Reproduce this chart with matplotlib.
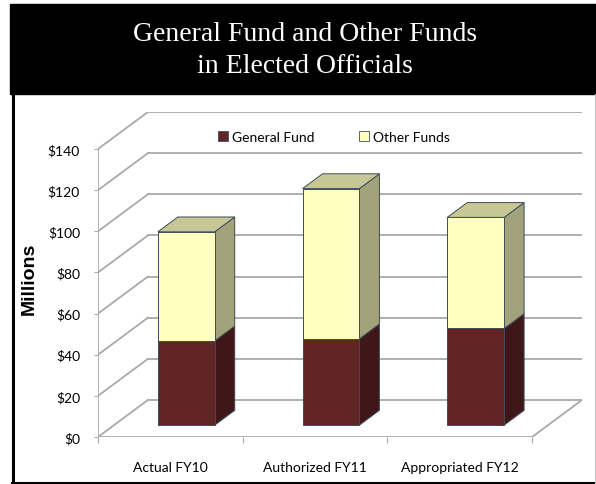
import matplotlib.pyplot as plt
from matplotlib.patches import Polygon, Rectangle, Patch

categories = ['Actual FY10', 'Authorized FY11', 'Appropriated FY12']
general_fund = [41, 42, 47]
other_funds = [53, 73, 54]
yticks = [0, 20, 40, 60, 80, 100, 120, 140]

# oblique 3d look: depth offset of the back wall in data units
DX, DY = 0.345, 18
d_front, d_back = 0.32, 0.72
bar_w = 0.393

W, H = 596, 485
fig = plt.figure(figsize=(W / 100, H / 100), dpi=100)

# frame + black title box (pixel coords)
bg = fig.add_axes([0, 0, 1, 1])
bg.set_xlim(0, W); bg.set_ylim(H, 0); bg.axis('off')
bg.add_patch(Rectangle((10, 5), W - 10, 90, color='black'))
bg.plot([12.5, 12.5], [95, H], color='black', lw=2.2)
bg.plot([12, W], [483.5, 483.5], color='black', lw=2.2)
bg.plot([595, 595], [95, 484], color='#c8c8c8', lw=0.8)
bg.text(305, 41, 'General Fund and Other Funds', color='white', ha='center', va='baseline',
        family='Liberation Serif', fontsize=20)
bg.text(305, 73, 'in Elected Officials', color='white', ha='center', va='baseline',
        family='Liberation Serif', fontsize=20)

ax = fig.add_axes([98 / W, 1 - 438 / H, 484 / W, 325 / H])
ax.set_xlim(0, 3 + DX)
ax.set_ylim(0, 140 + DY)
for s in ax.spines.values():
    s.set_visible(False)
ax.patch.set_alpha(0)

gc = '#a9a9a9'
# back wall gridlines and left wall diagonals
for v in yticks:
    ax.plot([DX, 3 + DX], [v + DY, v + DY], color=gc, lw=1.3, zorder=1)
    ax.plot([0, DX], [v, v + DY], color=gc, lw=1.3, zorder=1)
# floor front edge, right diagonal, and value axis
ax.plot([0, 3], [0, 0], color=gc, lw=1.3, zorder=1)
ax.plot([3, 3 + DX], [0, DY], color=gc, lw=1.3, zorder=1)
ax.plot([0, 0], [0, 140], color=gc, lw=1.3, zorder=1)

ec = '#3f4b5c'
def box(x0, a, b, front, side, top=None):
    fx, fy = DX * d_front, DY * d_front
    bx, by = DX * d_back, DY * d_back
    x1 = x0 + bar_w
    ax.add_patch(Polygon([(x1 + fx, a + fy), (x1 + bx, a + by), (x1 + bx, b + by), (x1 + fx, b + fy)],
                         fc=side, ec=ec, lw=0.7, zorder=3))
    ax.add_patch(Polygon([(x0 + fx, a + fy), (x1 + fx, a + fy), (x1 + fx, b + fy), (x0 + fx, b + fy)],
                         fc=front, ec=ec, lw=0.7, zorder=4))
    if top:
        ax.add_patch(Polygon([(x0 + fx, b + fy), (x1 + fx, b + fy), (x1 + bx, b + by), (x0 + bx, b + by)],
                             fc=top, ec=ec, lw=0.7, zorder=4))

for i in range(3):
    x0 = i + 0.5 - bar_w / 2
    g, o = general_fund[i], other_funds[i]
    box(x0, 0, g, '#632426', '#3e1819')
    box(x0, g, g + o, '#ffffc0', '#a3a37b', '#c7c795')

ax.set_yticks(yticks)
ax.set_yticklabels(['$%d' % v for v in yticks], family='Lato', fontsize=10)
ax.tick_params(axis='y', length=3, color=gc, pad=10)
ax.set_xticks([0, 1, 2, 3])
ax.set_xticklabels([])
ax.tick_params(axis='x', which='major', length=4, color=gc)
ax.set_xticks([0.5, 1.5, 2.5], minor=True)
ax.set_xticklabels(categories, minor=True, family='Lato', fontsize=10)
ax.tick_params(axis='x', which='minor', length=0, pad=17)

fig.text(29 / W, 1 - 279 / H, 'Millions', rotation=90, ha='center', va='center',
         family='Liberation Sans', fontweight='bold', fontsize=14)

handles = [Patch(fc='#632426', ec='#3f4b5c', lw=0.6), Patch(fc='#ffffc0', ec='#3f4b5c', lw=0.6)]
fig.legend(handles, ['General Fund', 'Other Funds'], loc='center', bbox_to_anchor=(334 / W, 1 - 138 / H),
           ncol=2, frameon=False, handlelength=0.7, handleheight=0.7, handletextpad=0.3,
           columnspacing=3.2, prop={'family': 'Lato', 'size': 10})

fig.savefig('out.png', dpi=100)
